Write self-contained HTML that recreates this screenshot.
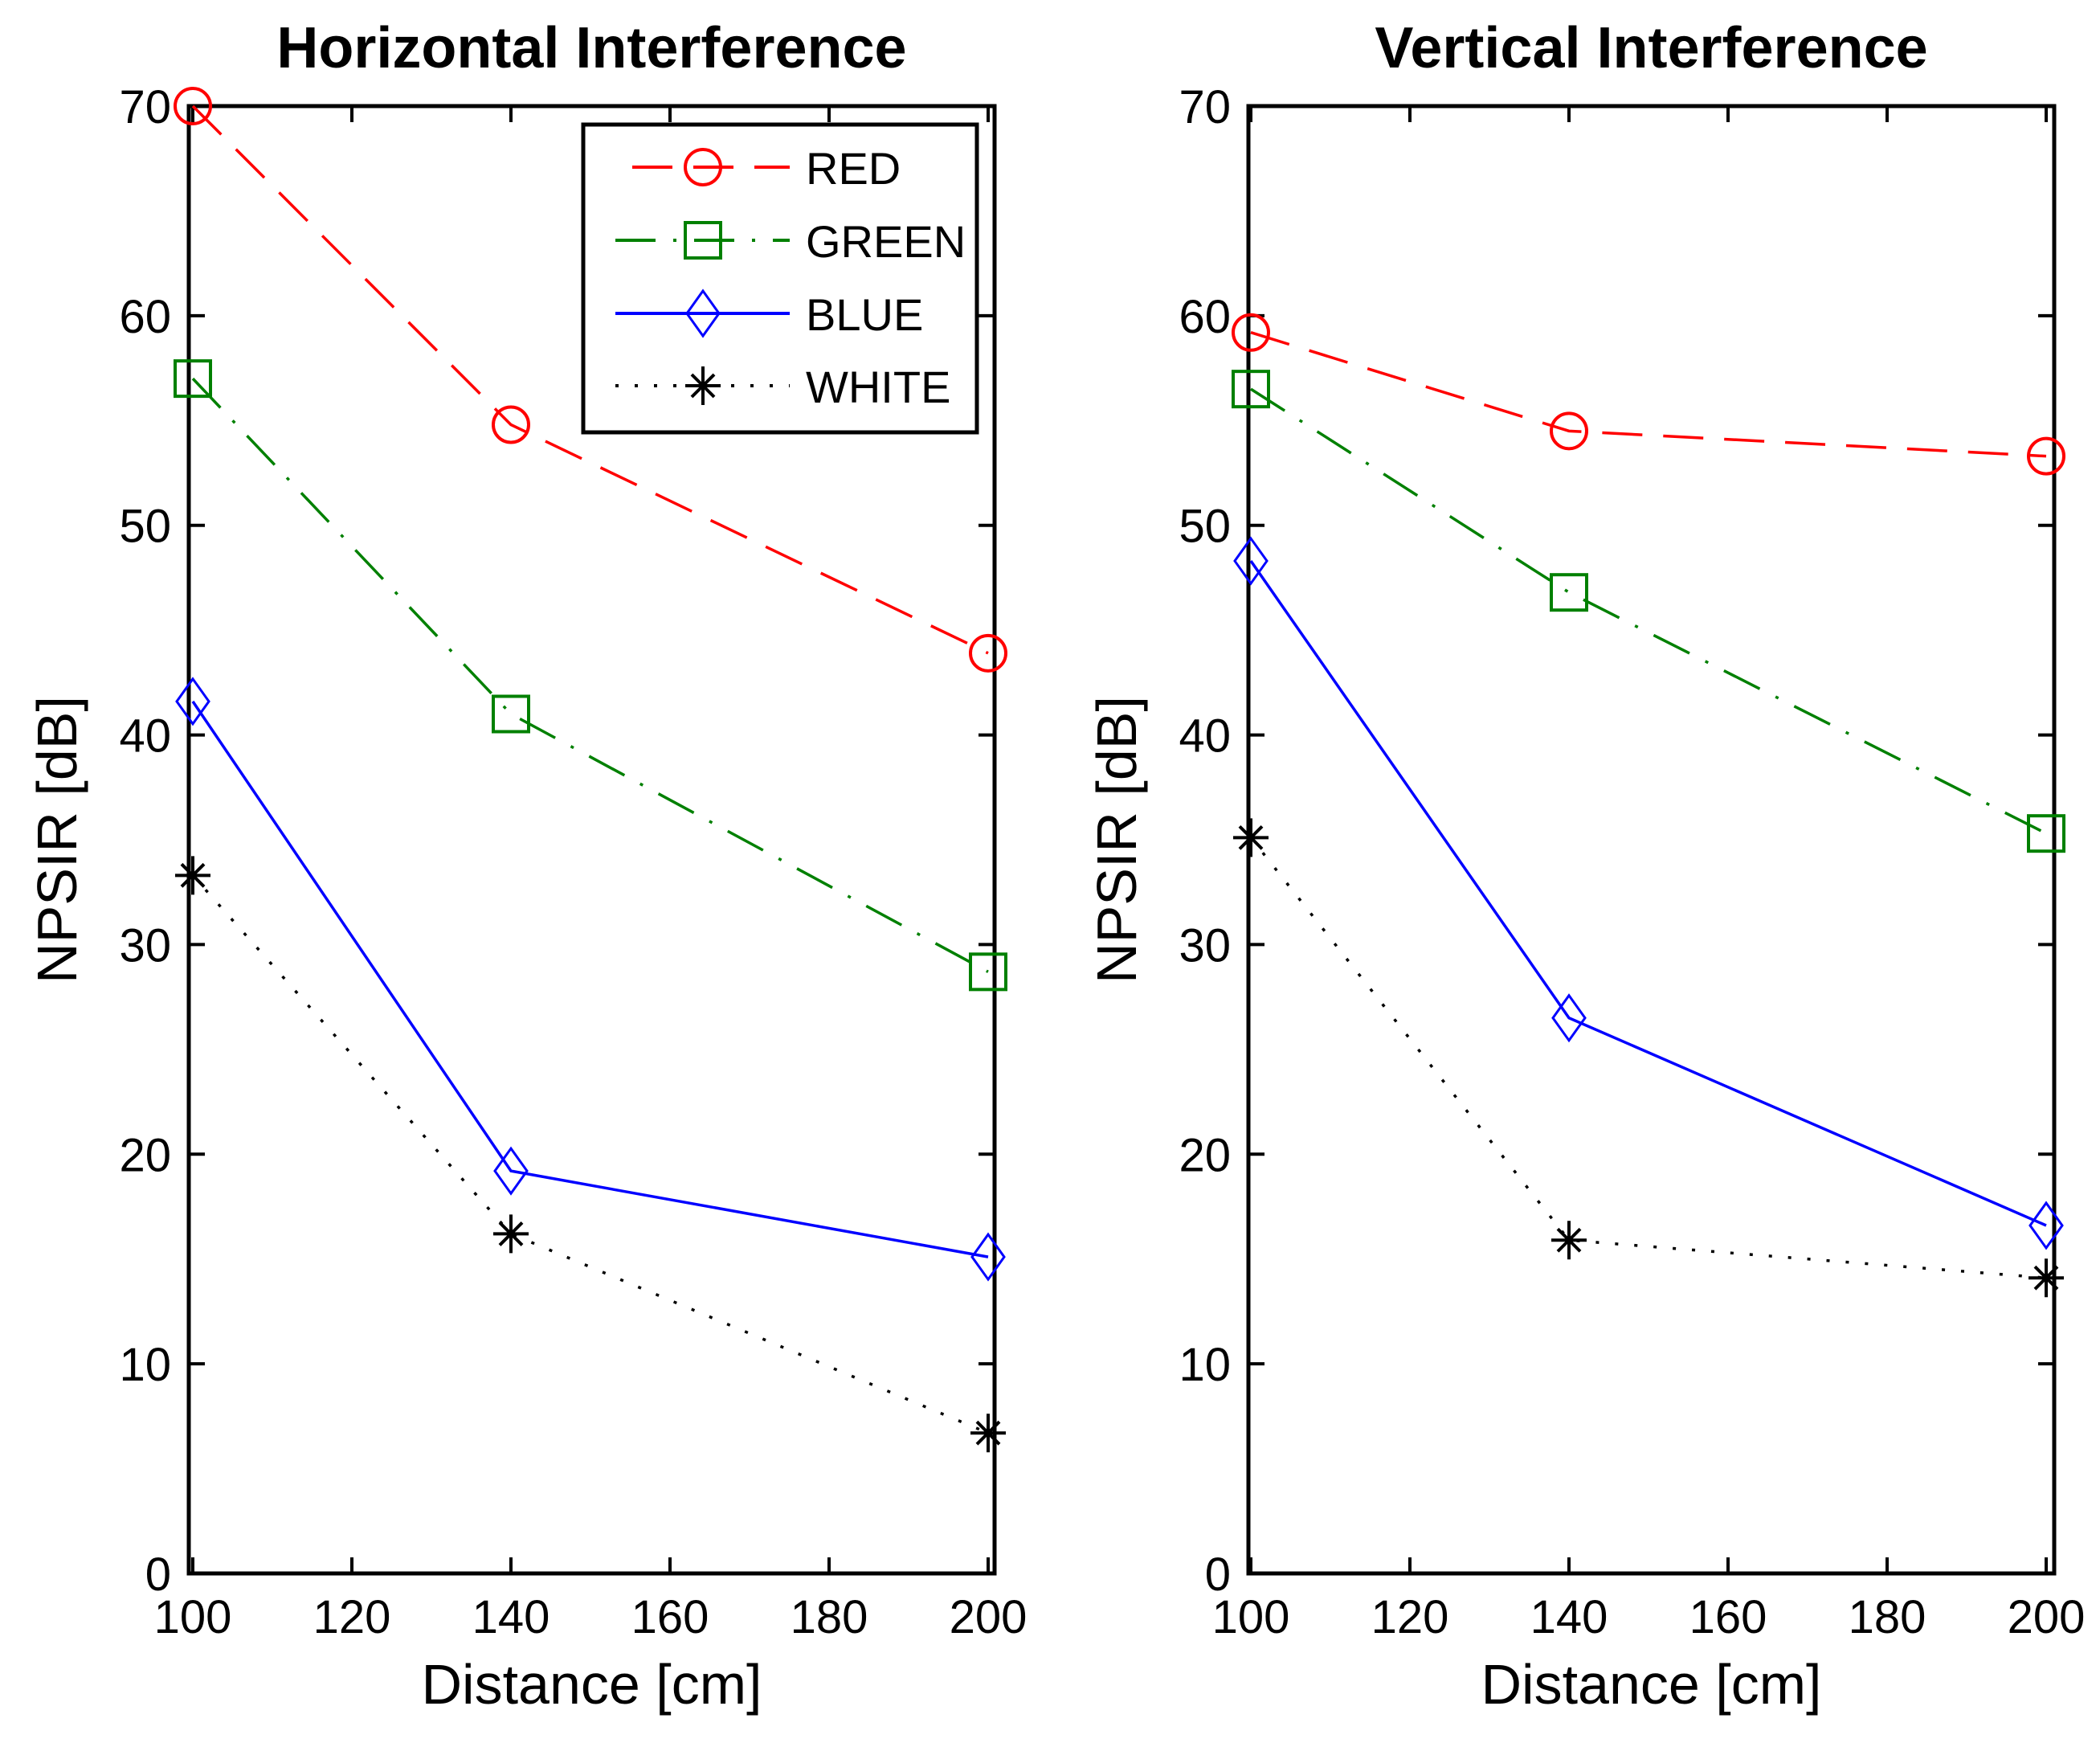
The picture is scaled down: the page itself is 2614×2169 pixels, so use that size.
<!DOCTYPE html>
<html><head><meta charset="utf-8"><style>
html,body{margin:0;padding:0;background:#fff;}
svg{display:block;font-family:"Liberation Sans",sans-serif;}
</style></head><body>
<svg id="chart" width="2614" height="2169" viewBox="0 0 2614 2169" xmlns="http://www.w3.org/2000/svg"></svg>
<script>
const distances = [100, 140, 200];
const seriesNames = ["RED", "GREEN", "BLUE", "WHITE"];
const hRed = [70, 54.8, 43.9];
const hGreen = [57, 41, 28.7];
const hBlue = [41.6, 19.2, 15.1];
const hWhite = [33.3, 16.2, 6.7];
const vRed = [59.2, 54.5, 53.3];
const vGreen = [56.5, 46.8, 35.3];
const vBlue = [48.3, 26.5, 16.6];
const vWhite = [35.1, 15.9, 14.1];
const xTicks = [100, 120, 140, 160, 180, 200];
const yTicks = [0, 10, 20, 30, 40, 50, 60, 70];

const NS = "http://www.w3.org/2000/svg";
const svg = document.getElementById("chart");
function mk(tag, attrs, parent, text) {
  const e = document.createElementNS(NS, tag);
  for (const k in attrs) e.setAttribute(k, attrs[k]);
  if (text !== undefined) e.textContent = text;
  (parent || svg).appendChild(e);
  return e;
}
const styles = {
  RED: {color: "#ff0000", dash: "50 26", marker: "circle"},
  GREEN: {color: "#008000", dash: "50 22 4 22", marker: "square"},
  BLUE: {color: "#0000ff", dash: "", marker: "diamond"},
  WHITE: {color: "#000000", dash: "4 20", marker: "star"}
};
function marker(g, type, cx, cy, color) {
  let m;
  if (type === "circle") m = mk("circle", {cx: cx, cy: cy, r: 22, fill: "none", stroke: color, "stroke-width": 4}, g);
  else if (type === "square") m = mk("rect", {x: cx - 22, y: cy - 22, width: 44, height: 44, fill: "none", stroke: color, "stroke-width": 4}, g);
  else if (type === "diamond") m = mk("polygon", {points: `${cx},${cy-28} ${cx+20},${cy} ${cx},${cy+28} ${cx-20},${cy}`, fill: "none", stroke: color, "stroke-width": 3}, g);
  else {
    m = mk("path", {d: `M${cx-22},${cy}H${cx+22}M${cx},${cy-24}V${cy+24}M${cx-14},${cy-14}L${cx+14},${cy+14}M${cx+14},${cy-14}L${cx-14},${cy+14}`, stroke: color, "stroke-width": 4, fill: "none"}, g);
  }
  return m;
}

function panel(opts) {
  const {left, right, top, bottom, x100, x200, title, data, legend, name} = opts;
  const g = mk("g", {});
  
  
  const xs = v => x100 + (v - 100) / 100 * (x200 - x100);
  const ys = v => bottom - v / 70 * (bottom - top);
  const t = mk("text", {x: (left + right) / 2, y: 84, "text-anchor": "middle", "font-size": 72, "font-weight": "bold"}, g, title);
  
  
  xTicks.forEach(v => {
    const x = xs(v);
    mk("line", {x1: x, y1: bottom, x2: x, y2: bottom - 20, stroke: "#000", "stroke-width": 4}, g);
    mk("line", {x1: x, y1: top, x2: x, y2: top + 20, stroke: "#000", "stroke-width": 4}, g);
    const tl = mk("text", {x: x, y: 2032, "text-anchor": "middle", "font-size": 58}, g, String(v));
    
    
  });
  yTicks.forEach(v => {
    const y = ys(v);
    mk("line", {x1: left, y1: y, x2: left + 20, y2: y, stroke: "#000", "stroke-width": 4}, g);
    mk("line", {x1: right, y1: y, x2: right - 20, y2: y, stroke: "#000", "stroke-width": 4}, g);
    const tl = mk("text", {x: left - 22, y: y + 21, "text-anchor": "end", "font-size": 58}, g, String(v));
    
    
  });
  const box = mk("rect", {x: left, y: top, width: right - left, height: bottom - top, fill: "none", stroke: "#000", "stroke-width": 5}, g);
  
  
  const xl = mk("text", {x: (left + right) / 2, y: 2120, "text-anchor": "middle", "font-size": 70}, g, "Distance [cm]");
  
  
  const lx = left - 140, ly = (top + bottom) / 2;
  const yl = mk("text", {x: lx, y: ly, "text-anchor": "middle", "font-size": 70, transform: `rotate(-90 ${lx} ${ly})`}, g, "NPSIR [dB]");
  
  
  seriesNames.forEach((s, i) => {
    const st = styles[s];
    const sg = mk("g", {}, g);
    
    
    const pts = distances.map((d, j) => xs(d) + "," + ys(data[i][j])).join(" ");
    const pl = mk("polyline", {points: pts, fill: "none", stroke: st.color, "stroke-width": 3.5, "stroke-dasharray": st.dash}, sg);
    
    
    distances.forEach((d, j) => {
      const m = marker(sg, st.marker, xs(d), ys(data[i][j]), st.color);
      
      
    });
  });
  if (legend) {
    const lg = mk("g", {}, g);
    
    
    mk("rect", {x: 726, y: 155, width: 490, height: 383, fill: "#fff", stroke: "#000", "stroke-width": 5}, lg);
    const rows = [208, 299, 390, 480];
    seriesNames.forEach((s, i) => {
      const st = styles[s];
      const eg = mk("g", {}, lg);
      
      
      const y = rows[i];
      const x1 = (s === "RED") ? 787 : 766;
      mk("line", {x1: x1, y1: y, x2: 983, y2: y, stroke: st.color, "stroke-width": 4, "stroke-dasharray": st.dash}, eg);
      marker(eg, st.marker, 875, y, st.color);
      mk("text", {x: 1003, y: y + 21, "font-size": 56}, eg, s);
    });
  }
}
panel({left: 235, right: 1238, top: 132, bottom: 1958, x100: 240, x200: 1230,
  title: "Horizontal Interference", data: [hRed, hGreen, hBlue, hWhite], legend: true, name: "horizontal-panel"});
panel({left: 1554, right: 2557, top: 132, bottom: 1958, x100: 1557, x200: 2547,
  title: "Vertical Interference", data: [vRed, vGreen, vBlue, vWhite], legend: false, name: "vertical-panel"});
</script>
</body></html>
